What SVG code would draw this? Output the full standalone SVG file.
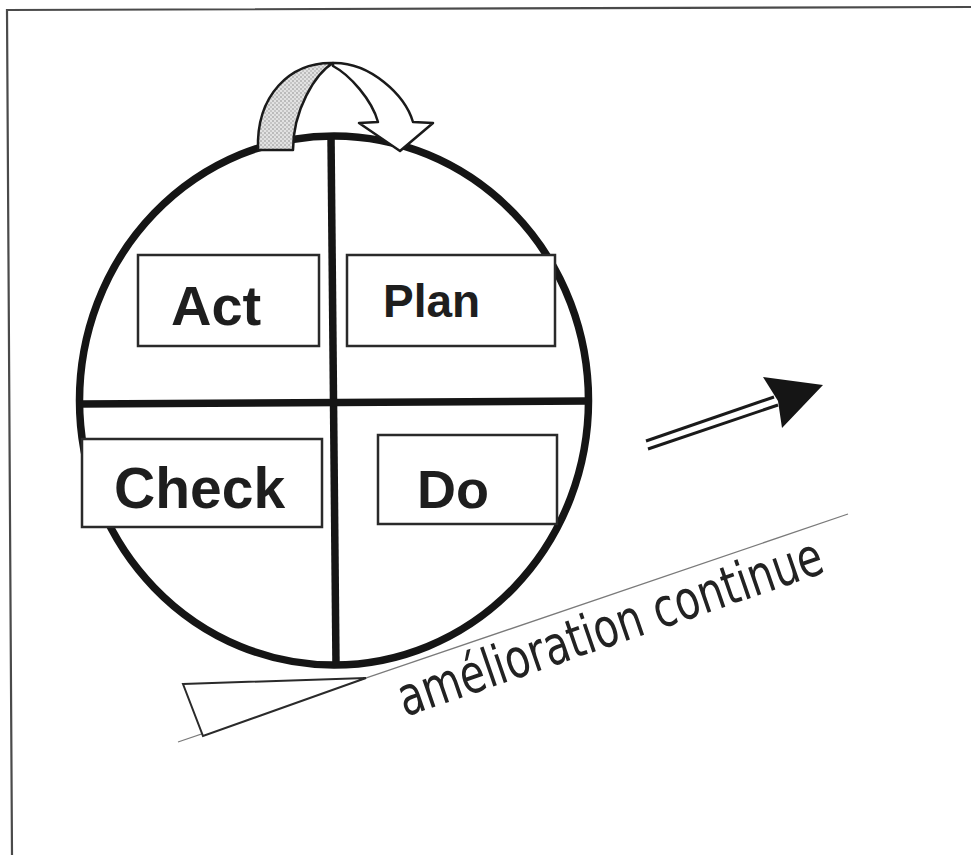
<svg xmlns="http://www.w3.org/2000/svg" width="971" height="855" viewBox="0 0 971 855">
  <defs>
    <pattern id="dots" width="4" height="4" patternUnits="userSpaceOnUse">
      <rect width="4" height="4" fill="#e2e2e2"/>
      <circle cx="1" cy="1" r="0.8" fill="#8a8a8a"/>
      <circle cx="3" cy="3" r="0.8" fill="#a0a0a0"/>
    </pattern>
    <style>
      .box { fill: #ffffff; stroke: #2a2a2a; stroke-width: 2.5; }
      .lbl { font-family: "Liberation Sans", Arial, sans-serif; font-weight: bold; fill: #1e1e1e; }
      .thick { stroke: #151515; stroke-width: 7.5; fill: none; }
      .outline { stroke: #1a1a1a; stroke-width: 2.5; stroke-linejoin: round; }
    </style>
  </defs>
  <rect width="971" height="855" fill="#ffffff"/>

  <!-- frame (top and left edges only) -->
  <polyline points="12,855 7,10 971,7" fill="none" stroke="#4a4a4a" stroke-width="2.2"/>

  <!-- incline and wedge -->
  <g id="incline">
    <line x1="178" y1="742" x2="848" y2="514" stroke="#7a7a7a" stroke-width="1.3"/>
    <polygon points="183,684 366,678 203,736" fill="#ffffff" stroke="#2a2a2a" stroke-width="2"/>
  </g>

  <!-- cycle circle with quadrants -->
  <g id="cycle">
    <ellipse cx="334" cy="400.5" rx="254.5" ry="264.5" class="thick"/>
    <line x1="331" y1="136" x2="336" y2="665" class="thick"/>
    <line x1="80" y1="404" x2="588" y2="401" class="thick"/>
  </g>

  <g id="act">
    <rect x="138" y="255" width="181" height="91" class="box"/>
    <text x="171" y="325" class="lbl" font-size="56">Act</text>
  </g>
  <g id="plan">
    <rect x="347" y="255" width="208" height="91" class="box"/>
    <text x="383" y="317" class="lbl" font-size="46">Plan</text>
  </g>
  <g id="check">
    <rect x="82" y="439" width="240" height="88" class="box"/>
    <text x="114" y="508" class="lbl" font-size="57">Check</text>
  </g>
  <g id="do">
    <rect x="378" y="435" width="179" height="89" class="box"/>
    <text x="417" y="508" class="lbl" font-size="54">Do</text>
  </g>

  <!-- connectors -->
  <g id="connectors">
    <!-- curved loop arrow from Act back to Plan -->
    <path d="M 258,150 C 256,95 290,62 333,63 C 315,74 293,110 293,150 Z" fill="url(#dots)" class="outline"/>
    <path d="M 333,63 C 370,62 405,95 413,122 L 433,123 L 400,151 L 359,123 L 378,122 C 372,100 350,75 333,66 Z" fill="#ffffff" class="outline"/>
    <!-- improvement direction arrow -->
    <line x1="646" y1="441" x2="774" y2="397" stroke="#1a1a1a" stroke-width="3"/>
    <line x1="648" y1="449" x2="778" y2="405" stroke="#1a1a1a" stroke-width="3"/>
    <polygon points="763,377 823,385 782,428 778,401" fill="#151515"/>
  </g>

  <g id="label-improvement">
    <text x="405" y="717" transform="rotate(-19 405 717)" font-family="'DejaVu Sans Condensed', 'DejaVu Sans', 'Liberation Sans', sans-serif" font-size="54" fill="#222222" textLength="446" lengthAdjust="spacingAndGlyphs">amélioration continue</text>
  </g>
</svg>
